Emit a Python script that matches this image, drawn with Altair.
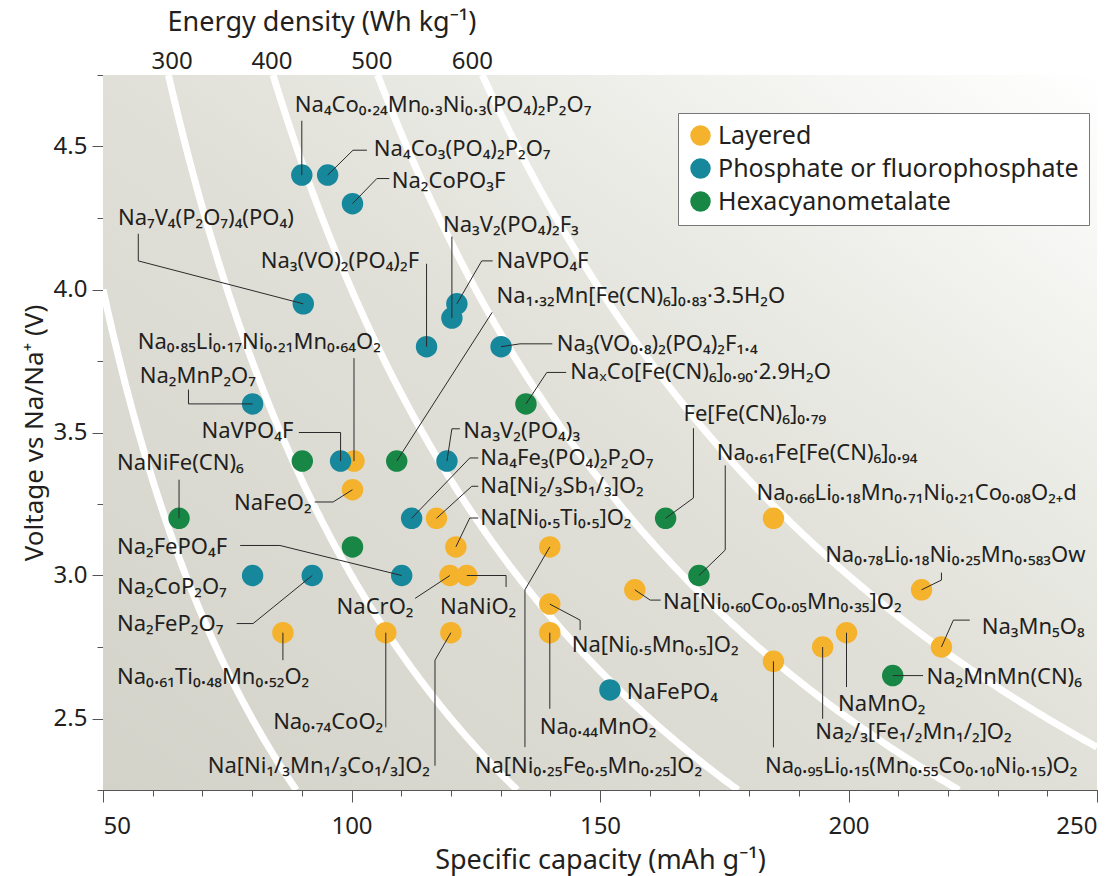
import altair as alt
import pandas as pd
import numpy as np

FONT = "Noto Sans"
TXT = "#231f20"
LABEL_SIZE = 22

# ---------------- data ----------------
families = ["Layered", "Phosphate or fluorophosphate", "Hexacyanometalate"]
family_colors = ["#F5B22C", "#17879C", "#188746"]

layered_cap = [100.5, 100.2, 117.1, 121.0, 139.9, 119.8, 123.2, 157.0, 139.9, 139.9,
               120.0, 106.9, 86.2, 184.9, 214.7, 218.7, 199.6, 194.8, 184.9]
layered_volt = [3.40, 3.30, 3.20, 3.10, 3.10, 3.00, 3.00, 2.95, 2.90, 2.80,
                2.80, 2.80, 2.80, 3.20, 2.95, 2.75, 2.80, 2.75, 2.70]

phosphate_cap = [90.0, 95.2, 100.2, 90.3, 115.1, 121.2, 120.2, 130.1, 80.1, 97.8,
                 119.2, 112.1, 110.1, 80.1, 92.1, 152.0]
phosphate_volt = [4.40, 4.40, 4.30, 3.95, 3.80, 3.95, 3.90, 3.80, 3.60, 3.40,
                  3.40, 3.20, 3.00, 3.00, 3.00, 2.60]

hexa_cap = [65.3, 90.1, 109.1, 100.2, 135.1, 163.2, 169.9, 208.9]
hexa_volt = [3.20, 3.40, 3.40, 3.10, 3.60, 3.20, 3.00, 2.65]

energy_curves = [200, 300, 400, 500, 600]
top_tick_values = [300, 400, 500, 600]
top_tick_cap = [63.9, 84.0, 104.1, 124.3]

x_major = [50, 100, 150, 200, 250]
x_minor = list(range(50, 251, 10))
y_major = [2.5, 3.0, 3.5, 4.0, 4.5]
y_minor = [2.25, 2.5, 2.75, 3.0, 3.25, 3.5, 3.75, 4.0, 4.25, 4.5, 4.75]

# annotation labels: markup text, anchor x, anchor y, align
label_text = [
    "Na_4Co_{0.24}Mn_{0.3}Ni_{0.3}(PO_4)_2P_2O_7", "Na_4Co_3(PO_4)_2P_2O_7", "Na_2CoPO_3F",
    "Na_7V_4(P_2O_7)_4(PO_4)", "Na_3(VO)_2(PO_4)_2F", "Na_3V_2(PO_4)_2F_3", "NaVPO_4F",
    "Na_{1.32}Mn[Fe(CN)_6]_{0.83}·3.5H_2O", "Na_3(VO_{0.8})_2(PO_4)_2F_{1.4}",
    "Na_xCo[Fe(CN)_6]_{0.90}·2.9H_2O", "Na_{0.85}Li_{0.17}Ni_{0.21}Mn_{0.64}O_2",
    "Na_2MnP_2O_7", "NaVPO_4F", "Na_3V_2(PO_4)_3", "NaNiFe(CN)_6", "NaFeO_2",
    "Na_4Fe_3(PO_4)_2P_2O_7", "Na[Ni_{2/3}Sb_{1/3}]O_2", "Na[Ni_{0.5}Ti_{0.5}]O_2",
    "Fe[Fe(CN)_6]_{0.79}", "Na_{0.61}Fe[Fe(CN)_6]_{0.94}",
    "Na_{0.66}Li_{0.18}Mn_{0.71}Ni_{0.21}Co_{0.08}O_{2+d}",
    "Na_{0.78}Li_{0.18}Ni_{0.25}Mn_{0.583}O_w", "Na[Ni_{0.60}Co_{0.05}Mn_{0.35}]O_2",
    "Na[Ni_{0.5}Mn_{0.5}]O_2", "NaFePO_4", "Na_{0.44}MnO_2",
    "Na[Ni_{0.25}Fe_{0.5}Mn_{0.25}]O_2", "NaCrO_2", "NaNiO_2", "Na_{0.74}CoO_2",
    "Na[Ni_{1/3}Mn_{1/3}Co_{1/3}]O_2", "Na_{0.61}Ti_{0.48}Mn_{0.52}O_2", "Na_2FePO_4F",
    "Na_2CoP_2O_7", "Na_2FeP_2O_7", "Na_2MnMn(CN)_6", "Na_3Mn_5O_8", "NaMnO_2",
    "Na_{2/3}[Fe_{1/2}Mn_{1/2}]O_2", "Na_{0.95}Li_{0.15}(Mn_{0.55}Co_{0.10}Ni_{0.15})O_2",
]
label_x = [88.6, 104.5, 108.1, 53.0, 113.6, 118.4, 129.2, 129.2, 141.3, 144.0, 57.0,
           57.4, 88.3, 122.5, 52.8, 92.0, 125.9, 125.9, 125.9, 166.8, 173.5, 181.5,
           195.3, 162.7, 144.3, 155.4, 137.9, 124.8, 97.0, 117.8, 106.4, 115.8, 52.8,
           52.8, 52.8, 52.8, 215.7, 226.8, 197.9, 193.3, 183.2]
label_y = [4.644, 4.49, 4.38, 4.251, 4.10, 4.224, 4.10, 3.978, 3.81, 3.71, 3.816,
           3.698, 3.505, 3.505, 3.394, 3.253, 3.411, 3.312, 3.201, 3.563, 3.429, 3.288,
           3.072, 2.908, 2.756, 2.592, 2.469, 2.335, 2.891, 2.891, 2.487, 2.335, 2.645,
           3.101, 2.96, 2.832, 2.645, 2.82, 2.552, 2.452, 2.335]
label_align = ["left", "left", "left", "left", "right", "left", "left", "left", "left",
               "left", "left", "left", "right", "left", "left", "right", "left", "left",
               "left", "left", "left", "left", "left", "left", "left", "left", "left",
               "left", "left", "left", "right", "right", "left", "left", "left", "left",
               "left", "left", "left", "left", "left"]

leaders = [
    [(90.0, 4.40), (90.0, 4.59)],
    [(95.2, 4.40), (100.3, 4.487), (103.1, 4.487)],
    [(100.2, 4.30), (105.1, 4.388), (107.6, 4.388)],
    [(90.3, 3.95), (57.1, 4.10), (57.1, 4.195)],
    [(115.1, 3.80), (115.1, 4.09)],
    [(120.2, 3.90), (120.2, 4.185)],
    [(121.2, 3.95), (126.2, 4.10), (128.4, 4.10)],
    [(109.1, 3.40), (128.3, 3.92)],
    [(130.1, 3.80), (133.9, 3.81), (140.4, 3.81)],
    [(135.1, 3.60), (139.3, 3.71), (143.2, 3.71)],
    [(100.5, 3.40), (100.5, 3.76)],
    [(80.1, 3.60), (67.2, 3.60), (67.2, 3.65)],
    [(89.4, 3.50), (97.8, 3.50), (97.8, 3.40)],
    [(119.2, 3.40), (120.2, 3.513), (121.8, 3.513)],
    [(65.3, 3.20), (65.3, 3.335)],
    [(92.6, 3.257), (96.3, 3.257), (100.2, 3.30)],
    [(112.1, 3.20), (123.8, 3.411), (125.5, 3.411)],
    [(117.1, 3.20), (124.2, 3.312), (125.5, 3.312)],
    [(121.0, 3.10), (123.8, 3.201), (125.5, 3.201)],
    [(163.2, 3.20), (168.8, 3.271), (168.8, 3.515)],
    [(169.9, 3.00), (175.2, 3.089), (175.2, 3.385)],
    [(214.7, 2.95), (218.7, 2.984), (218.7, 3.01)],
    [(157.0, 2.95), (160.1, 2.914), (162.2, 2.914)],
    [(139.9, 2.90), (146.0, 2.844), (146.0, 2.809)],
    [(139.9, 2.80), (139.9, 2.534)],
    [(139.9, 3.10), (134.9, 2.95), (134.9, 2.40)],
    [(112.8, 2.92), (119.8, 3.00)],
    [(123.2, 3.00), (131.1, 3.00), (131.1, 2.96)],
    [(106.9, 2.80), (106.9, 2.469)],
    [(120.0, 2.80), (116.8, 2.704), (116.8, 2.335)],
    [(86.2, 2.80), (86.2, 2.704)],
    [(77.6, 3.105), (85.6, 3.105), (110.1, 3.00)],
    [(76.9, 2.832), (80.2, 2.832), (92.1, 3.00)],
    [(208.9, 2.65), (215.0, 2.65)],
    [(218.7, 2.75), (221.1, 2.844), (224.4, 2.844)],
    [(199.6, 2.80), (199.6, 2.61)],
    [(194.8, 2.75), (194.8, 2.499)],
    [(184.9, 2.70), (184.9, 2.399)],
]

# ---------------- helpers ----------------
SUB = str.maketrans("0123456789+x", "₀₁₂₃₄₅₆₇₈₉₊ₓ")


def chem(s):
    out, i = [], 0
    while i < len(s):
        if s[i] == "_":
            if s[i + 1] == "{":
                j = s.index("}", i)
                out.append(s[i + 2:j].translate(SUB))
                i = j + 1
            else:
                out.append(s[i + 1].translate(SUB))
                i += 2
        else:
            out.append(s[i])
            i += 1
    return "".join(out)


points = pd.DataFrame(
    [{"cap": c, "volt": v, "family": families[0]} for c, v in zip(layered_cap, layered_volt)]
    + [{"cap": c, "volt": v, "family": families[1]} for c, v in zip(phosphate_cap, phosphate_volt)]
    + [{"cap": c, "volt": v, "family": families[2]} for c, v in zip(hexa_cap, hexa_volt)]
)

labels = pd.DataFrame({"text": [chem(t) for t in label_text], "lx": label_x,
                       "ly": label_y, "align": label_align})

lead_rows = []
for k, path in enumerate(leaders):
    for j, (x, y) in enumerate(path):
        lead_rows.append({"id": k, "ord": j, "x": x, "y": y})
lead_df = pd.DataFrame(lead_rows)

curve_rows = []
for E in energy_curves:
    c0 = max(50.0, E / 4.75)
    c1 = min(250.0, E / 2.25)
    for c in np.linspace(c0, c1, 160):
        curve_rows.append({"E": E, "cap": c, "volt": E / c})
curves = pd.DataFrame(curve_rows)

top_df = pd.DataFrame({"cap": top_tick_cap, "t": [str(v) for v in top_tick_values]})

xs = alt.Scale(domain=[50, 250], nice=False, zero=False)
ys = alt.Scale(domain=[2.25, 4.75], nice=False, zero=False)

# ---------------- layers ----------------
bg = alt.Chart(pd.DataFrame({"x0": [50], "x1": [250], "y0": [2.25], "y1": [4.75]})).mark_rect(
    fill=alt.LinearGradient(
        gradient="linear", x1=0, y1=1, x2=1, y2=0,
        stops=[alt.GradientStop(offset=0, color="#d3d3ca"),
               alt.GradientStop(offset=0.5, color="#e0e0d8"),
               alt.GradientStop(offset=0.78, color="#f0f0ec"),
               alt.GradientStop(offset=1, color="#ffffff")]),
).encode(
    x=alt.X("x0:Q", scale=xs, axis=alt.Axis(values=x_minor, labels=False, tickSize=6,
                                             title=None, orient="bottom", grid=False)),
    x2="x1:Q",
    y=alt.Y("y0:Q", scale=ys, axis=alt.Axis(values=y_minor, labels=False, tickSize=6,
                                             title=None, orient="left", grid=False)),
    y2="y1:Q",
)

curve_layer = alt.Chart(curves).mark_line(color="white", strokeWidth=7, clip=True).encode(
    x=alt.X("cap:Q", scale=xs, axis=alt.Axis(values=x_major, tickSize=12, orient="bottom",
                                              title="Specific capacity (mAh g⁻¹)",
                                              labelFontSize=24, titleFontSize=27,
                                              labelPadding=12, titlePadding=9, grid=False)),
    y=alt.Y("volt:Q", scale=ys, axis=alt.Axis(values=y_major, format=".1f", tickSize=11,
                                               orient="left", title="Voltage vs Na/Na⁺ (V)",
                                               labelFontSize=24, titleFontSize=26,
                                               labelPadding=5, titlePadding=6, grid=False)),
    detail="E:N",
)

pts = alt.Chart(points).mark_circle(size=460, opacity=1).encode(
    x=alt.X("cap:Q", scale=xs, axis=None),
    y=alt.Y("volt:Q", scale=ys, axis=None),
    color=alt.Color("family:N", scale=alt.Scale(domain=families, range=family_colors),
                    sort=families,
                    legend=alt.Legend(orient="none", legendX=575, legendY=38, title=None,
                                      fillColor="white", strokeColor="#777", padding=10,
                                      symbolSize=420, symbolType="circle",
                                      symbolStrokeWidth=0, symbolOpacity=1,
                                      labelFontSize=25, labelFont=FONT, labelColor=TXT,
                                      rowPadding=7, labelOffset=5, labelLimit=500)),
)

lead_layer = alt.Chart(lead_df).mark_line(color="#2a2a2a", strokeWidth=1).encode(
    x=alt.X("x:Q", scale=xs, axis=None),
    y=alt.Y("y:Q", scale=ys, axis=None),
    detail="id:N",
    order="ord:Q",
)


def text_layer(align):
    return alt.Chart(labels[labels["align"] == align]).mark_text(
        align=align, baseline="middle", font=FONT, fontSize=LABEL_SIZE, color=TXT
    ).encode(
        x=alt.X("lx:Q", scale=xs, axis=None),
        y=alt.Y("ly:Q", scale=ys, axis=None),
        text="text:N",
    )


top_labels = alt.Chart(top_df).mark_text(
    align="center", baseline="middle", font=FONT, fontSize=24, color=TXT
).encode(
    x=alt.X("cap:Q", scale=xs, axis=None),
    y=alt.value(-13),
    text="t:N",
)

top_title = alt.Chart(pd.DataFrame({"t": ["Energy density (Wh kg⁻¹)"]})).mark_text(
    align="center", baseline="middle", font=FONT, fontSize=27, color=TXT
).encode(x=alt.value(219), y=alt.value(-52), text="t:N")

chart = alt.layer(
    bg, curve_layer, pts, lead_layer, text_layer("left"), text_layer("right"),
    top_labels, top_title,
).resolve_axis(x="independent", y="independent").properties(
    width=994, height=715,
    autosize=alt.AutoSizeParams(type="none"),
    padding={"left": 103, "top": 75, "right": 21, "bottom": 86},
).configure_view(stroke=None).configure_axis(
    labelFont=FONT, titleFont=FONT, domainColor="#555", tickColor="#555",
    labelColor=TXT, titleColor=TXT, titleFontWeight="normal",
)

chart.save("out.html", embed_options={"renderer": "svg", "actions": False})
